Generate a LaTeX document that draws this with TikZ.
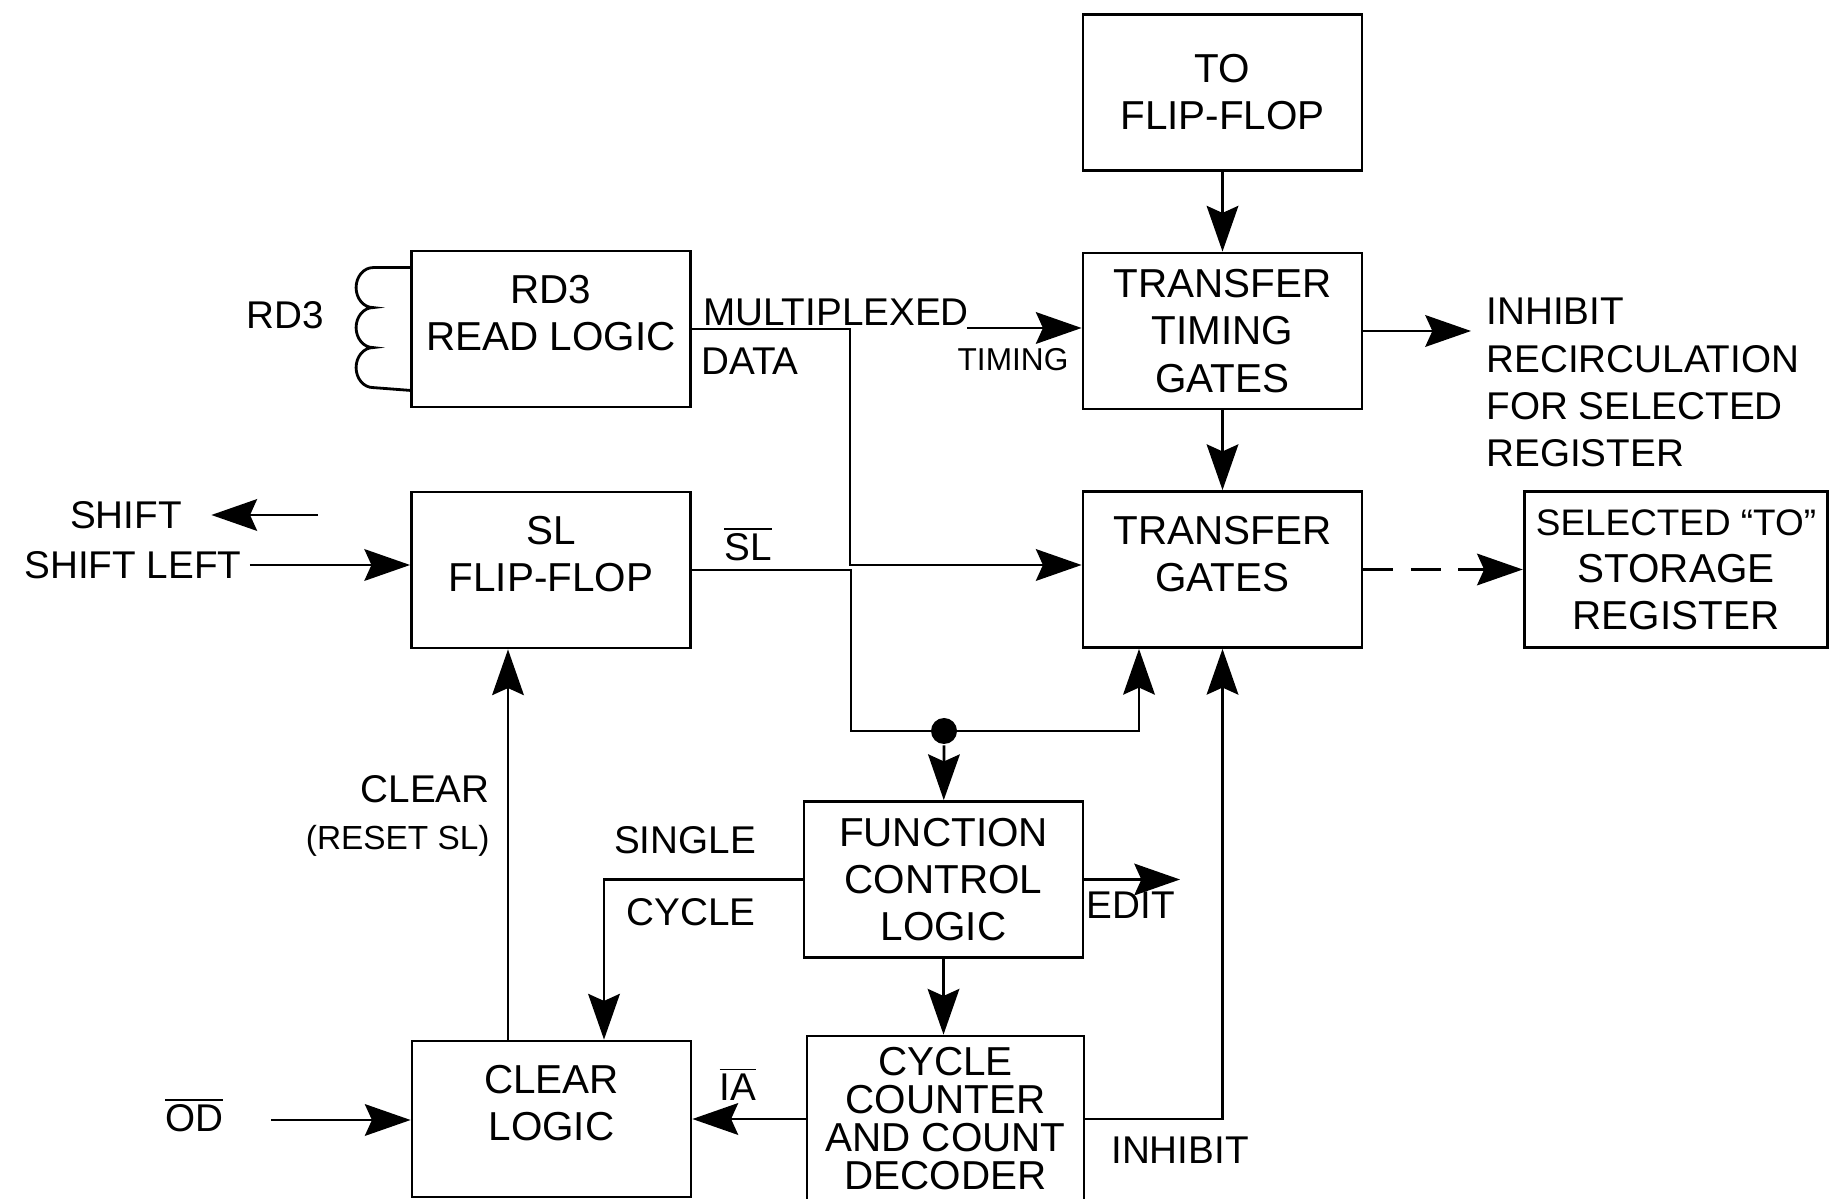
\documentclass[tikz,border=0pt]{standalone}
\usepackage{fontspec}
\setmainfont{Liberation Sans}
\usetikzlibrary{arrows.meta}
\newcommand{\blockfont}{\fontsize{11.5}{13.4}\selectfont}
\newcommand{\tagfont}{\fontsize{11}{13.4}\selectfont}

\begin{document}
\begin{tikzpicture}
[ line width=0.8pt
, point/.style={coordinate}
, block/.style={rectangle, draw, minimum width=2.79cm, minimum height=1.56cm, align=center, font=\blockfont}
, raised/.style={text depth=3.2mm}
, tag/.style={inner sep=2pt, align=center, font=\tagfont}
, junction/.style={circle, fill, inner sep=0pt, minimum size=2.6mm}
, signal/.style={-{Stealth[length=13pt, width=9pt, inset=2pt]}}
]
\useasboundingbox (0,0) rectangle (18.45,-11.99);
% Blocks:
\node (toff) [block] at (12.225,-0.925) {TO\\FLIP-FLOP};
\node (ttg) [block] at (12.225,-3.31) {TRANSFER\\TIMING\\GATES};
\node (rd3) [block, raised] at (5.51,-3.29) {RD3\\READ LOGIC};
\node (sl) [block, raised] at (5.51,-5.70) {SL\\FLIP-FLOP};
\node (tg) [block, raised] at (12.225,-5.695) {TRANSFER\\GATES};
\node (sel) [block] at (16.76,-5.695) {{\fontsize{10.5}{13.4}\selectfont SELECTED “TO”}\\STORAGE\\REGISTER};
\node (fcl) [block] at (9.435,-8.795) {FUNCTION\\CONTROL\\LOGIC};
\node (clr) [block, raised] at (5.515,-11.19) {CLEAR\\LOGIC};
\node (cc) [block, minimum width=2.77cm, font=\fontsize{11.5}{10.8}\selectfont] at (9.455,-11.19) {CYCLE\\COUNTER\\AND COUNT\\DECODER};
% Signal names:
\node (rd3tag) [tag] at (2.85,-3.15) {RD3};
\node (mux) [tag] at (8.36,-3.12) {MULTIPLEXED};
\node (data) [tag] at (7.50,-3.61) {DATA};
\node (timing) [tag, font=\fontsize{9}{11}\selectfont] at (10.13,-3.60) {TIMING};
\node (recirc) [tag, align=left, anchor=north west, inner sep=0pt] at (14.85,-2.97) {INHIBIT\\RECIRCULATION\\FOR SELECTED\\REGISTER};
\node (shift) [tag] at (1.26,-5.15) {SHIFT};
\node (shl) [tag] at (1.33,-5.65) {SHIFT LEFT};
\node (slbar) [tag] at (7.48,-5.44) {$\overline{\mbox{SL}}$};
\node (clear) [tag, align=right, anchor=east] at (4.98,-8.16) {CLEAR\\{\fontsize{9.5}{13.4}\selectfont(RESET SL)}};
\node (single) [tag] at (6.85,-8.40) {SINGLE};
\node (cycle) [tag] at (6.91,-9.12) {CYCLE};
\node (edit) [tag] at (11.31,-9.05) {EDIT};
\node (iabar) [tag] at (7.38,-10.84) {$\overline{\mbox{IA}}$};
\node (odbar) [tag] at (1.94,-11.15) {$\overline{\mbox{OD}}$};
\node (inhibit) [tag] at (11.80,-11.50) {INHIBIT};
% Bends and loose ends:
\node (p1) [point] at (8.50,-5.65) {};
\node (p2) [point] at (9.67,-3.28) {};
\node (p3) [point] at (14.71,-3.28) {};
\node (p4) [point] at (8.51,-7.31) {};
\node (p5) [point] at (11.39,-7.31) {};
\node (p6) [point] at (3.18,-5.15) {};
\node (p7) [point] at (5.08,-9.50) {};
\node (p8) [point] at (6.04,-8.73) {};
\node (p9) [point] at (11.80,-8.73) {};
\node (p10) [point] at (2.71,-11.20) {};
\node (dot) [junction] at (9.44,-7.31) {};
% Read head coil:
\draw ([yshift=-1.8mm]rd3.north west) -- ++(-0.37,0)
  arc [start angle=90, end angle=270, x radius=0.17, y radius=0.2]
  arc [start angle=90, end angle=270, x radius=0.17, y radius=0.2]
  arc [start angle=90, end angle=270, x radius=0.17, y radius=0.2]
  -- ([yshift=1.8mm]rd3.south west);
% Connections:
\draw [signal] (toff) -- (ttg);
\draw [signal] (ttg) -- (tg);
\draw [signal] (ttg.east) -- (ttg.east -| p3);
\draw [signal] (p2) -- (p2 -| ttg.west);
\draw [signal] (rd3.east) -| (p1) -- (tg.west |- p1);
\draw [signal] (shl.east) -- (shl.east -| sl.west);
\draw [signal, shorten >=6pt] (p6) -- (shift.east);
\draw [signal] (sl.east) -| (p4) -- (p5) -- (p5 |- tg.south);
\draw [signal] (dot) -- (fcl);
\draw [signal] (cc.east) -| (tg.south);
\draw [signal] (clr.north -| p7) -- (sl.south -| p7);
\draw [signal] (fcl.west) -| (p8 |- clr.north);
\draw [signal] (fcl.east) -- (fcl.east -| p9);
\draw [signal] (fcl) -- (fcl |- cc.north);
\draw [signal] (cc) -- (clr);
\draw [signal] (p10) -- (p10 -| clr.west);
\draw [signal, dash pattern=on 8.5pt off 5pt] (tg) -- (sel);
\end{tikzpicture}
\end{document}
